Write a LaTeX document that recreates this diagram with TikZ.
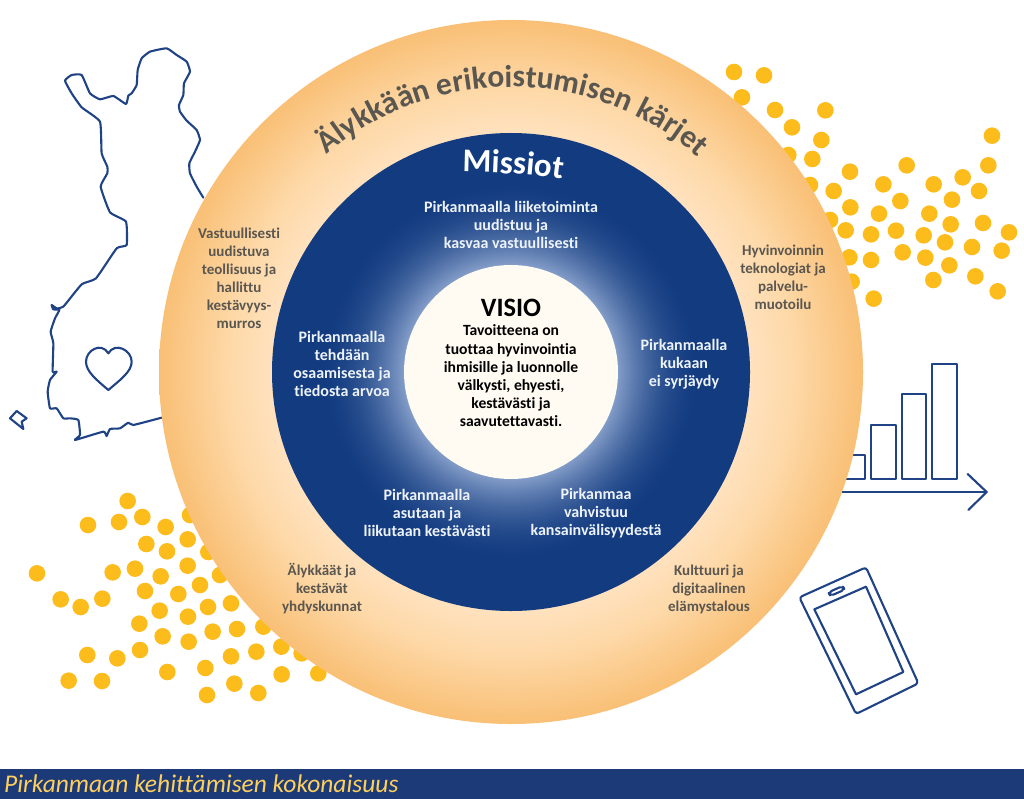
\documentclass[tikz,border=0pt]{standalone}
\usepackage{fontspec}
\setmainfont{Carlito}[Ligatures=NoCommon]
\usetikzlibrary{decorations.text,calc}
\definecolor{mapblue}{HTML}{1F4385}
\definecolor{dotyellow}{HTML}{FBBC1C}
\definecolor{ringtext}{HTML}{5A5650}
\definecolor{footblue}{HTML}{1C3A78}
\definecolor{footyellow}{HTML}{FFCF5C}
\definecolor{coretext}{HTML}{000000}
\definecolor{missiontext}{HTML}{EEF3FA}
\definecolor{corefill}{HTML}{FFFBF3}
\definecolor{deepblue}{rgb}{0.07,0.23,0.50}
\definecolor{midblue}{rgb}{0.52,0.62,0.79}
\pgfdeclareradialshading{ringorange}{\pgfpoint{0bp}{0bp}}{
  rgb(0bp)=(1,0.89,0.76);
  rgb(16.5bp)=(1,0.89,0.76);
  rgb(20bp)=(0.995,0.85,0.66);
  rgb(25bp)=(0.975,0.75,0.46);
  rgb(50bp)=(0.975,0.75,0.46)}
\tikzset{
  iconline/.style={draw=mapblue,line width=2.1pt,line join=round,line cap=round},
  dotmark/.style={circle,fill=dotyellow,draw=none,minimum size=16.6pt,inner sep=0pt},
  ringlabel/.style={align=center,text=ringtext,inner sep=0pt,font=\fontsize{15}{18}\selectfont\bfseries},
  missionlabel/.style={align=center,text=missiontext,inner sep=0pt,font=\fontsize{16}{17.8}\selectfont\bfseries},
  corelabel/.style={align=center,text=coretext,inner sep=0pt,font=\fontsize{15.6}{18.2}\selectfont\bfseries},
}
\begin{document}
\begin{tikzpicture}[x=1pt,y=-1pt]
\useasboundingbox (0,0) rectangle (1024,799);
\fill[white] (0,0) rectangle (1024,799);
% Finland map
\begin{scope}[x=0.33333pt,y=-0.33333pt,shift={(0pt,-30pt)}]
\draw[iconline] plot[smooth,tension=0.25] coordinates {(610,503)(590,470)(570,430)(568,400)(585,365)(600,330)(590,300)(560,272)(540,245)(537,225)(550,195)(552,160)(570,125)(560,95)(530,75)(500,55)(450,65)(425,85)(413,120)(410,165)(395,190)(385,197)(378,222)(340,198)(300,208)(270,190)(245,135)(215,135)(195,152)(215,190)(245,232)(300,275)(305,370)(322,410)(322,430)(302,470)(330,547)(378,575)(380,645)(350,655)(288,745)(245,763)(190,830)(170,835)(155,825)(160,838)(178,840)(165,865)(152,905)(160,940)(158,1025)(170,1025)(150,1050)(143,1085)(150,1135)(170,1135)(190,1165)(210,1165)(235,1170)(240,1215)(225,1230)(310,1205)(320,1218)(330,1197)(360,1195)(385,1178)(400,1185)(485,1163)};
\draw[iconline] (325,1080) .. controls (290,1050) and (258,1025) .. (258,995) .. controls (258,960) and (305,935) .. (325,970) .. controls (345,935) and (395,960) .. (395,995) .. controls (395,1025) and (360,1050) .. (325,1080) -- cycle;
\draw[iconline] (30,1165) -- (50,1143) -- (80,1165) -- (65,1175) -- (70,1197) -- cycle;
\end{scope}
% dots upper right
\begin{scope}[x=0.33333pt,y=-0.33333pt,shift={(720pt,-50pt)}]
\foreach \p in {(42,66),(132,76),(66,142),(165,180),(316,181),(216,232),(304,270),(205,315),(277,327),(390,365),(560,346),(816,257),(805,346),(490,403),(641,403),(728,382),(777,423),(341,423),(270,405),(541,453),(696,449),(391,472),(477,491),(628,491),(692,523),(789,519),(867,547),(377,541),(453,553),(528,542),(611,556),(675,577),(756,591),(845,602),(388,622),(453,630),(548,607),(616,623),(688,646),(640,690),(766,679),(833,724),(461,746),(330,510),(395,695)}
  \node[dotmark] at \p {};
\end{scope}
% dots lower left
\begin{scope}[x=0.33333pt,y=-0.33333pt,shift={(20pt,-480pt)}]
\foreach \p in {(323,63),(204,135),(297,126),(367,111),(437,141),(510,105),(379,192),(503,178),(441,214),(565,216),(278,277),(345,266),(51,280),(422,289),(503,257),(600,285),(540,315),(375,333),(475,342),(122,358),(182,381),(247,356),(564,381),(633,370),(419,392),(504,410),(358,431),(428,469),(578,455),(651,447),(730,440),(506,485),(360,510),(202,525),(292,535),(633,529),(709,515),(784,500),(845,520),(442,576),(556,564),(146,602),(246,603),(643,611),(785,583),(895,580),(715,639),(561,645)}
  \node[dotmark] at \p {};
\end{scope}
% chart and phone
\begin{scope}[x=0.33333pt,y=-0.33333pt,shift={(780pt,-350pt)}]
\draw[iconline] (180,388) rectangle (256,315);
\draw[iconline] (274,388) rectangle (348,226);
\draw[iconline] (365,388) rectangle (439,133);
\draw[iconline] (457,388) rectangle (531,42);
\coordinate (axisStart) at (170,426);
\coordinate (axisEnd) at (620,426);
\draw[iconline] (axisStart) -- (axisEnd);
\draw[iconline] (563,372) -- (axisEnd) -- (565,480);
\draw[iconline,rounded corners=3pt] (58,742) -- (258,652) -- (415,1000) -- (228,1092) -- cycle;
\draw[iconline] (103,778) -- (258,710) -- (370,966) -- (228,1033) -- cycle;
\draw[iconline,rounded corners=3.5pt] (145,727) -- (188,708) -- (194,719) -- (151,738) -- cycle;
\end{scope}
% rings
\shade[shading=ringorange] (511,372) circle (352);
\fill[deepblue] (511,372) circle (239);
\foreach \r in {195,194,...,108} {
  \pgfmathsetmacro\mixp{100*((195-\r)/88)^2}
  \fill[midblue!\mixp!deepblue] (511,372) circle (\r);
}
\fill[corefill] (511,372) circle (107);
% curved titles
\begin{scope}[x=1pt,y=1pt,shift={(511pt,-372pt)}]
\path[decorate,decoration={text along path,text align=center,
  text={|\fontsize{31.5}{31.5}\selectfont\bfseries\color{ringtext}|Älykkään erikoistumisen kärjet}}]
  (139.6:285) arc (139.6:39.6:285);
\end{scope}
\path[decorate,decoration={text along path,text align=center,
  text={|\fontsize{33}{33}\selectfont\bfseries\color{white}|Missiot}}]
  (455,172) .. controls (490,172) and (530,174) .. (570,180);
% ring labels
\node[ringlabel] (n1) at (239,278) {Vastuullisesti\\uudistuva\\teollisuus ja\\hallittu\\kestävyys-\\murros};
\node[ringlabel] (n2) at (783,277) {Hyvinvoinnin\\teknologiat ja\\palvelu-\\muotoilu};
\node[ringlabel] (n3) at (709,589) {Kulttuuri ja\\digitaalinen\\elämystalous};
\node[ringlabel] (n4) at (322,589) {Älykkäät ja\\kestävät\\yhdyskunnat};
% mission labels
\node[missionlabel] (m1) at (511,225) {Pirkanmaalla liiketoiminta\\uudistuu ja\\kasvaa vastuullisesti};
\node[missionlabel] (m2) at (342,364) {Pirkanmaalla\\tehdään\\osaamisesta ja\\tiedosta arvoa};
\node[missionlabel] (m3) at (684,364) {Pirkanmaalla\\kukaan\\ei syrjäydy};
\node[missionlabel] (m4) at (427,513) {Pirkanmaalla\\asutaan ja\\liikutaan kestävästi};
\node[missionlabel] (m5) at (596,513) {Pirkanmaa\\vahvistuu\\kansainvälisyydestä};
% centre
\node[text=black,inner sep=0pt,font=\fontsize{26.5}{26.5}\selectfont\bfseries] (visio) at (511,308) {VISIO};
\node[corelabel] (vt) at (511,376) {Tavoitteena on\\tuottaa hyvinvointia\\ihmisille ja luonnolle\\välkysti, ehyesti,\\kestävästi ja\\saavutettavasti.};
% footer
\fill[footblue] (0,769) rectangle (1024,799);
\node[anchor=base west,inner sep=0pt,text=footyellow,font=\fontsize{25.5}{25.5}\selectfont\itshape] (foot) at (4,792) {Pirkanmaan kehittämisen kokonaisuus};
\end{tikzpicture}
\end{document}
